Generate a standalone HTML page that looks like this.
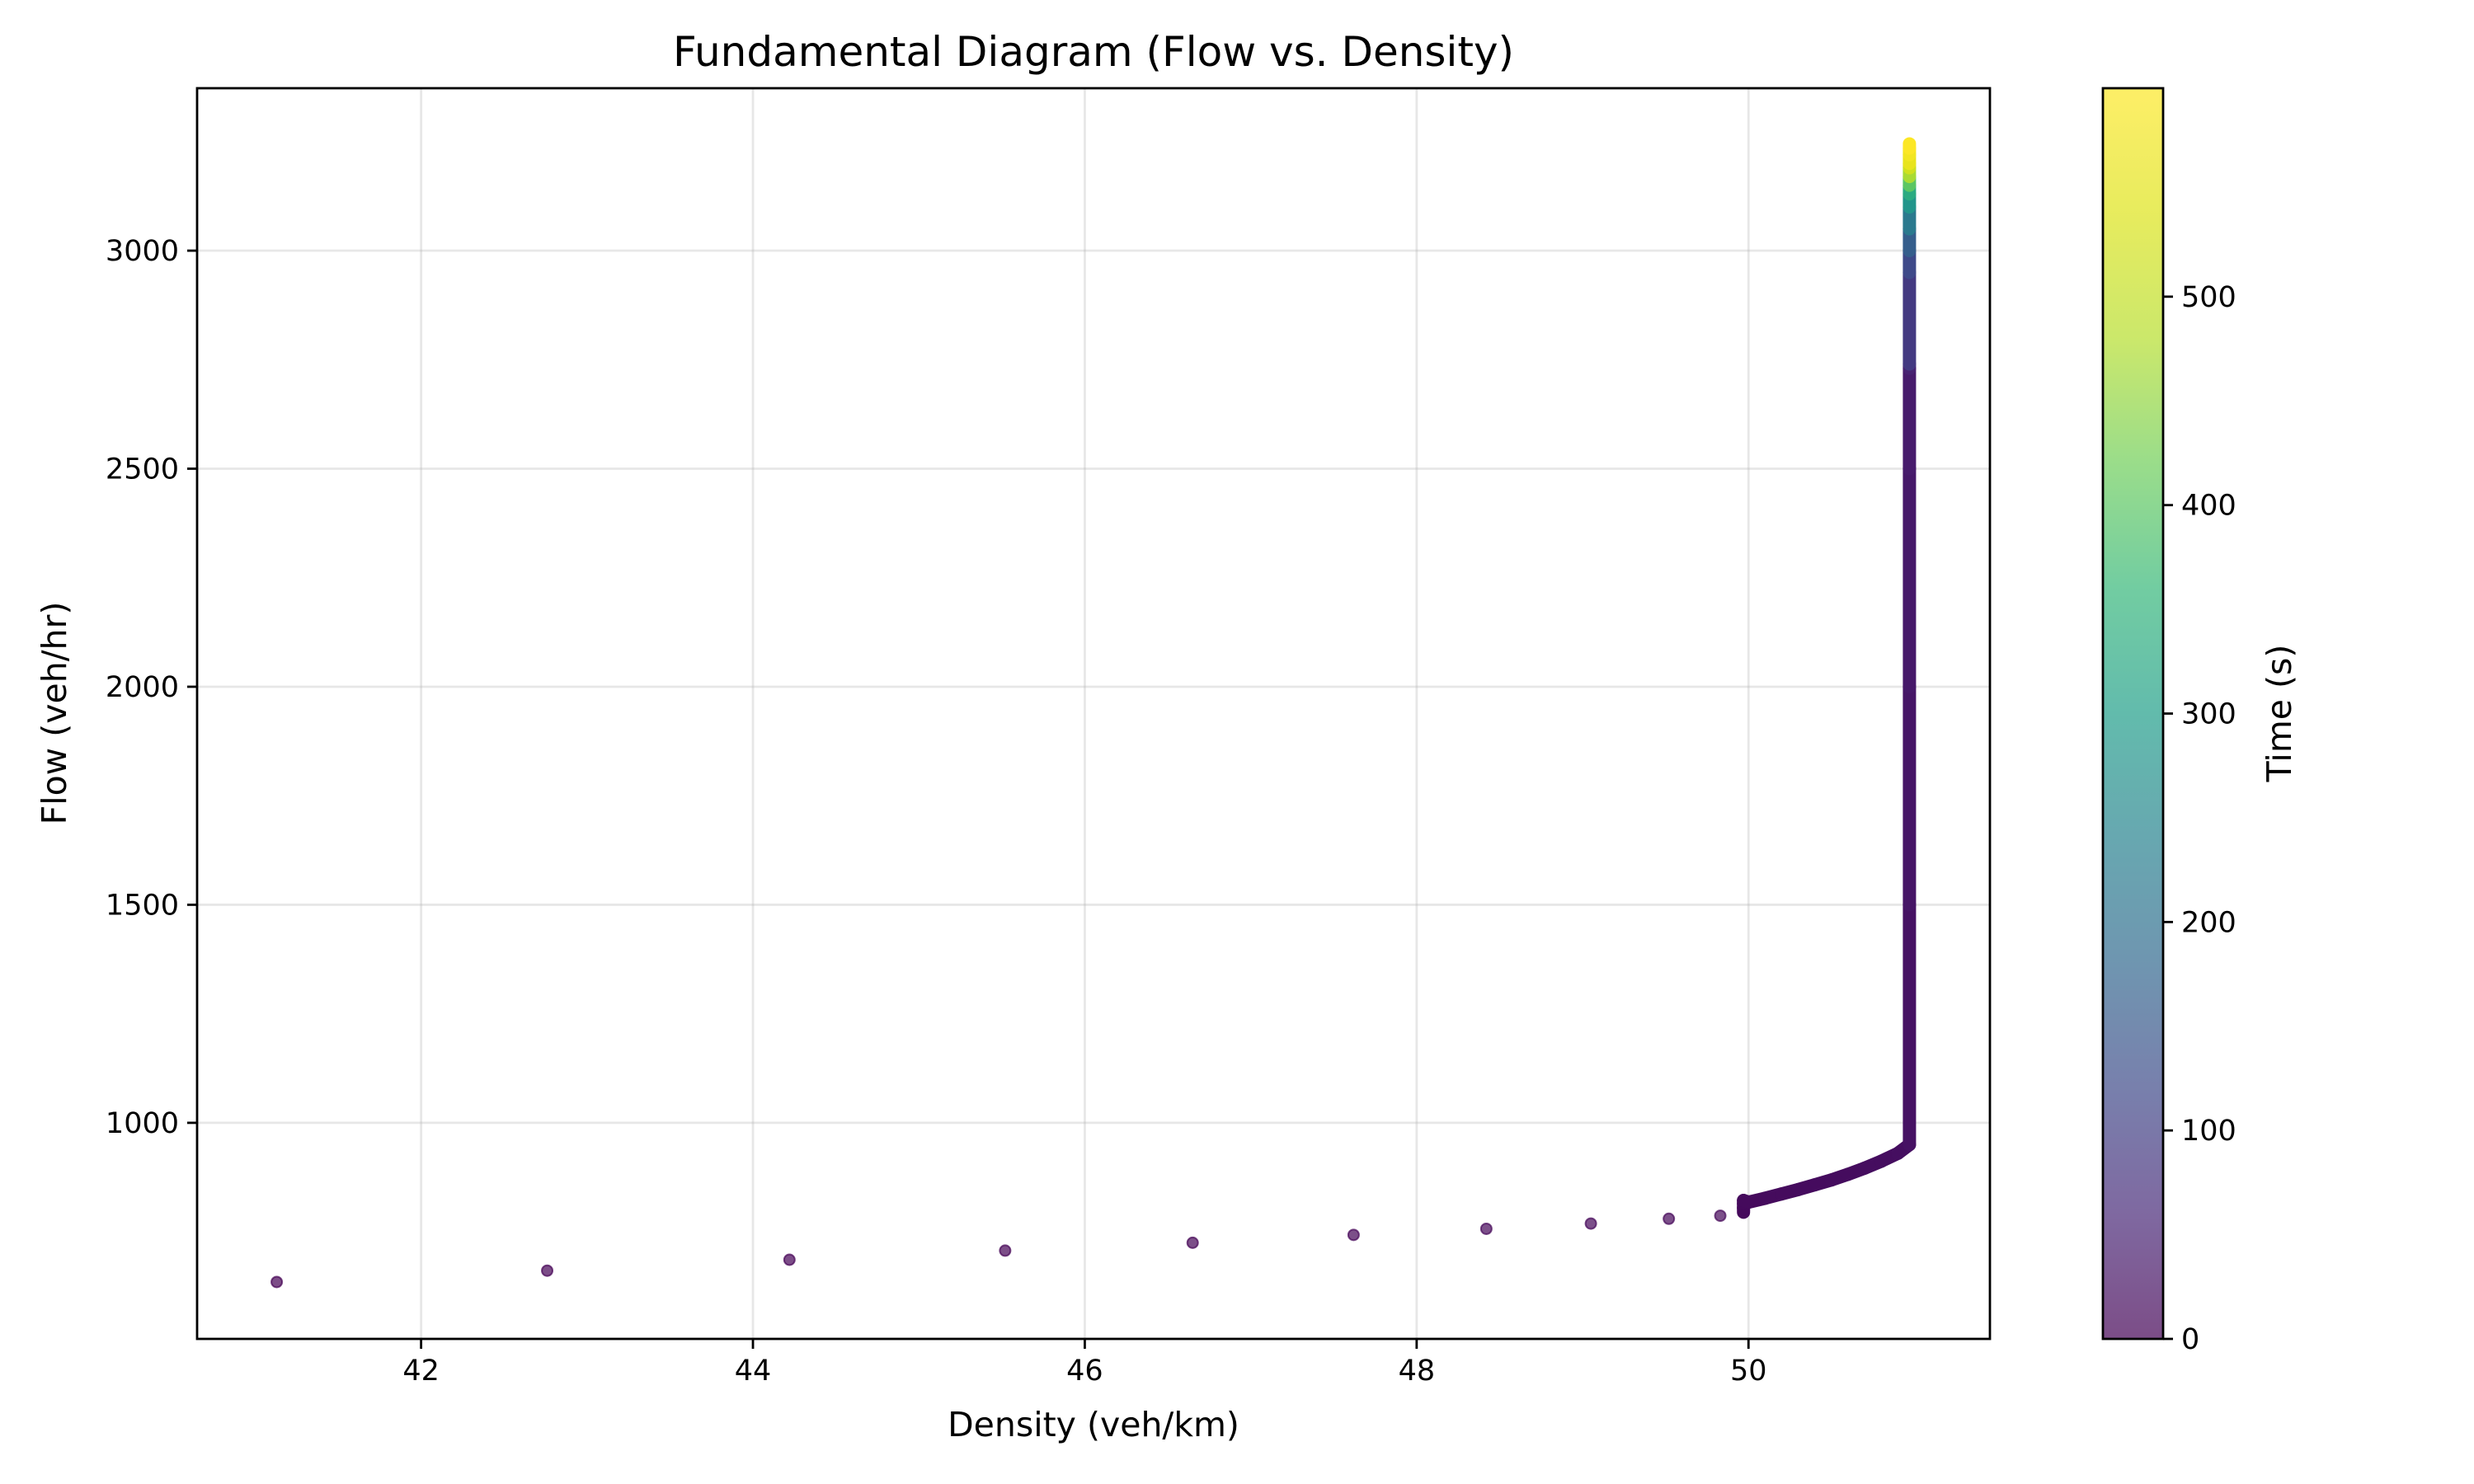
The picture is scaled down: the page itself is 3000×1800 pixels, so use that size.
<!DOCTYPE html>
<html><head><meta charset="utf-8"><style>
body{margin:0;background:#fff}
svg{display:block;font-family:"DejaVu Sans","Liberation Sans",sans-serif}
</style></head><body>
<svg id="c" width="3000" height="1800" viewBox="0 0 3000 1800">
<defs>
<linearGradient id="vir" x1="0" y1="1" x2="0" y2="0">
<stop offset="0" stop-color="#440154"/><stop offset="0.1" stop-color="#482878"/><stop offset="0.2" stop-color="#3e4989"/><stop offset="0.3" stop-color="#31688e"/><stop offset="0.4" stop-color="#26828e"/><stop offset="0.5" stop-color="#1f9e89"/><stop offset="0.6" stop-color="#35b779"/><stop offset="0.7" stop-color="#6ece58"/><stop offset="0.8" stop-color="#b5de2b"/><stop offset="0.9" stop-color="#dde318"/><stop offset="1" stop-color="#fde725"/>
</linearGradient>
</defs>
<text x="1326" y="80" text-anchor="middle" font-size="50">Fundamental Diagram (Flow vs. Density)</text>
<g id="grid"></g>
<g id="marks"></g>
<rect x="239" y="107" width="2174" height="1517" fill="none" stroke="#000" stroke-width="2.8"/>
<g id="axes"></g>
<text x="1326" y="1742" text-anchor="middle" font-size="41">Density (veh/km)</text>
<text transform="translate(80,865) rotate(-90)" text-anchor="middle" font-size="41">Flow (veh/hr)</text>
<rect x="2550" y="107" width="73" height="1517" fill="url(#vir)" opacity="0.7"/>
<rect x="2550" y="107" width="73" height="1517" fill="none" stroke="#000" stroke-width="2.8"/>
<g id="cbticks"></g>
<text transform="translate(2778,865) rotate(-90)" text-anchor="middle" font-size="41">Time (s)</text>
</svg>
<script>
const density = [41.13,42.76,44.22,45.52,46.65,47.62,48.42,49.05,49.52,49.83,49.97,49.97,49.97,49.97,50.0,50.1,50.2,50.3,50.4,50.5,50.6,50.7,50.8,50.9,50.97,50.97,50.97,50.97,50.97,50.97,50.97,50.97,50.97,50.97,50.97,50.97,50.97,50.97,50.97,50.97,50.97,50.97];
const flow = [635,661,686,707,725,743,757,769,780,787,795,805,815,822,818,827,837,847,858,869,882,896,912,930,950,1500,2000,2500,2730,2740,2950,3000,3050,3100,3130,3150,3170,3190,3200,3220,3235,3245];
const time = [0,1,2,3,4,5,6,7,8,9,10,11,12,13,14,14,15,15,16,16,17,17,18,19,20,25,30,35,40,50,90,120,160,220,280,330,400,470,520,560,580,598];
const xTicks = [42,44,46,48,50];
const yTicks = [1000,1500,2000,2500,3000];
const cTicks = [0,100,200,300,400,500];
const X0=239,X1=2413,Y0=1624,Y1=107, xMin=40.65,xMax=51.455,yMin=504.5,yMax=3372.5,tMax=600;
const sx=v=>X0+(v-xMin)/(xMax-xMin)*(X1-X0);
const sy=v=>Y0-(v-yMin)/(yMax-yMin)*(Y0-Y1);
const sc=v=>Y0-v/tMax*(Y0-Y1);
const vir=["#440154","#482878","#3e4989","#31688e","#26828e","#1f9e89","#35b779","#6ece58","#b5de2b","#dde318","#fde725"];
function col(t){let f=Math.max(0,Math.min(1,t/tMax))*10,i=Math.min(9,Math.floor(f)),r=f-i;
const a=vir[i],b=vir[i+1],h=(s,k)=>parseInt(s.substr(k,2),16);
const m=k=>Math.round(h(a,k)+(h(b,k)-h(a,k))*r);return `rgb(${m(1)},${m(3)},${m(5)})`;}
const NS="http://www.w3.org/2000/svg";
function mk(tag,attrs,parent){const e=document.createElementNS(NS,tag);for(const k in attrs)e.setAttribute(k,attrs[k]);document.getElementById(parent).appendChild(e);return e;}
xTicks.forEach(v=>{
const g=mk('line',{x1:sx(v),x2:sx(v),y1:Y1,y2:Y0,stroke:'#b0b0b0','stroke-opacity':0.3,'stroke-width':2.8},'grid');


const t=mk('line',{x1:sx(v),x2:sx(v),y1:Y0,y2:Y0+12,stroke:'#000','stroke-width':2.8},'axes');


const l=mk('text',{x:sx(v),y:Y0+50,'text-anchor':'middle','font-size':35},'axes');l.textContent=v;


});
yTicks.forEach(v=>{
const g=mk('line',{x1:X0,x2:X1,y1:sy(v),y2:sy(v),stroke:'#b0b0b0','stroke-opacity':0.3,'stroke-width':2.8},'grid');


const t=mk('line',{x1:X0-12,x2:X0,y1:sy(v),y2:sy(v),stroke:'#000','stroke-width':2.8},'axes');


const l=mk('text',{x:X0-22,y:sy(v)+12,'text-anchor':'end','font-size':35},'axes');l.textContent=v;


});
cTicks.forEach(v=>{
const t=mk('line',{x1:2623,x2:2635,y1:sc(v),y2:sc(v),stroke:'#000','stroke-width':2.8},'cbticks');


const l=mk('text',{x:2645,y:sc(v)+12,'font-size':35},'cbticks');l.textContent=v;


});
for(let i=0;i<density.length;i++){
if(i>=11){
const s=mk('line',{x1:sx(density[i-1]),y1:sy(flow[i-1]),x2:sx(density[i]),y2:sy(flow[i]),stroke:col(time[i]),'stroke-width':16,'stroke-linecap':'round'},'marks');


}
const c=mk('circle',{cx:sx(density[i]),cy:sy(flow[i]),r:6.5,fill:col(time[i]),'fill-opacity':0.7,stroke:col(time[i]),'stroke-opacity':0.7,'stroke-width':2},'marks');


}
</script>
</body></html>
